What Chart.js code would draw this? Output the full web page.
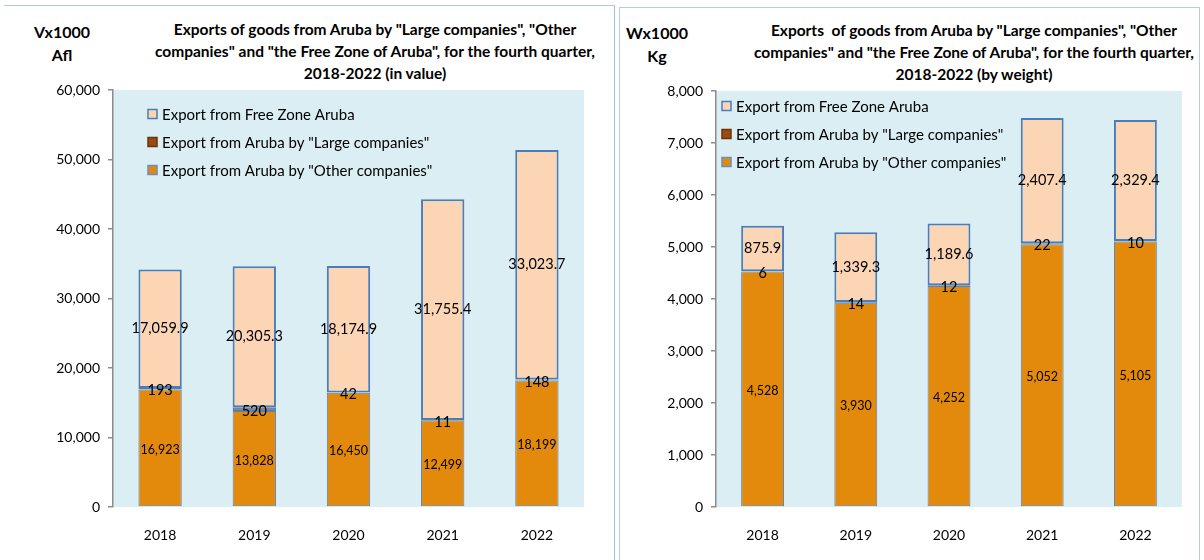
<!DOCTYPE html>
<html>
<head>
<meta charset="utf-8">
<script src="https://cdn.jsdelivr.net/npm/chart.js@4"></script>
<style>
  body { margin: 0; background: #fff; width: 1204px; height: 560px; overflow: hidden; position: relative; font-family: Lato, "Open Sans", sans-serif; }
  .panel { position: absolute; box-sizing: border-box; }
  #panelL { left: 4px; top: 5px; width: 611px; height: 600px; border-top: 1.5px solid #a9cbe6; border-right: 1.5px solid #9cc3e4; }
  #panelR { left: 619px; top: 7px; width: 581px; height: 600px; border: 1.5px solid #b7cde3; }
  .unit { position: absolute; font-weight: bold; font-size: 16px; text-align: center; line-height: 23px; color: #000; }
  .title { position: absolute; font-weight: bold; font-size: 15.5px; text-align: center; line-height: 22px; color: #000; white-space: nowrap; }
  canvas { position: absolute; top: 0; }
</style>
</head>
<body>
<div class="panel" id="panelL"></div>
<div class="panel" id="panelR"></div>

<div class="unit" style="left:22px; top:20px; width:80px;">Vx1000<br>Afl</div>
<div class="title" style="left:125px; top:18px; width:500px;">Exports of goods from Aruba by "Large companies", "Other<br>companies" and "the Free Zone of Aruba", for the fourth quarter,<br>2018-2022 (in value)</div>

<div class="unit" style="left:617px; top:21px; width:80px;">Wx1000<br>Kg</div>
<div class="title" style="left:724px; top:19px; width:500px;">Exports&nbsp; of goods from Aruba by "Large companies", "Other<br>companies" and "the Free Zone of Aruba", for the fourth quarter,<br>2018-2022 (by weight)</div>

<canvas id="valueChart" style="left:0px;" width="612" height="560"></canvas>
<canvas id="weightChart" style="left:619px;" width="580" height="560"></canvas>

<script>
// years on the x axis
const years = ["2018", "2019", "2020", "2021", "2022"];

// value (x1000 Afl)
const valueOther = [16923, 13828, 16450, 12499, 18199];
const valueLarge = [193, 520, 42, 11, 148];
const valueFreeZone = [17059.9, 20305.3, 18174.9, 31755.4, 33023.7];
const valueTicks = [0, 10000, 20000, 30000, 40000, 50000, 60000];

// weight (x1000 Kg)
const weightOther = [4528, 3930, 4252, 5052, 5105];
const weightLarge = [6, 14, 12, 22, 10];
const weightFreeZone = [875.9, 1339.3, 1189.6, 2407.4, 2329.4];
const weightTicks = [0, 1000, 2000, 3000, 4000, 5000, 6000, 7000, 8000];

const seriesNames = [
    'Export from Aruba by "Other companies"',
    'Export from Aruba by "Large companies"',
    "Export from Free Zone Aruba"
];

const FONT = "Lato, 'Open Sans', sans-serif";
const fmt = (v, dec) => v.toLocaleString("en-US", { minimumFractionDigits: dec, maximumFractionDigits: dec });

// light blue plot background
const plotBg = {
    id: "plotBg",
    beforeDraw(chart) {
        const a = chart.chartArea;
        const ctx = chart.ctx;
        ctx.save();
        ctx.fillStyle = "#dbeef4";
        ctx.fillRect(a.left, a.top, a.right - a.left, a.bottom - a.top);
        ctx.restore();
    }
};

// numbers in the middle of every segment
const segLabels = {
    id: "segLabels",
    afterDatasetsDraw(chart) {
        const ctx = chart.ctx;
        ctx.save();
        ctx.fillStyle = "#000";
        ctx.textAlign = "center";
        ctx.textBaseline = "middle";
        chart.data.datasets.forEach((ds, i) => {
            const meta = chart.getDatasetMeta(i);
            ctx.font = ds.labelFont;
            meta.data.forEach((bar, j) => {
                const y = (bar.y + bar.base) / 2 + (ds.labelShift || 0);
                ctx.fillText(fmt(ds.data[j], ds.decimals), bar.x, y);
            });
        });
        ctx.restore();
    }
};

// legend drawn inside the plot area, top-left
const insideLegend = {
    id: "insideLegend",
    afterDraw(chart, args, opts) {
        const ctx = chart.ctx;
        const sets = chart.data.datasets.slice().reverse();
        ctx.save();
        ctx.font = "15px " + FONT;
        ctx.textBaseline = "middle";
        sets.forEach((ds, k) => {
            const y = opts.y + k * opts.gap;
            ctx.fillStyle = ds.backgroundColor;
            ctx.fillRect(opts.x, y - 4.5, 9, 9);
            ctx.strokeStyle = ds.legendBorder;
            ctx.lineWidth = 1.5;
            ctx.strokeRect(opts.x, y - 4.5, 9, 9);
            ctx.fillStyle = "#000";
            ctx.fillText(ds.label, opts.x + 14, y + 1);
        });
        ctx.restore();
    }
};

function makeChart(id, other, large, freeZone, ticks, axisWidth, padRight, padTop, legendPos, fzDec) {
    const top = ticks[ticks.length - 1];
    return new Chart(document.getElementById(id), {
        type: "bar",
        data: {
            labels: years,
            datasets: [
                {
                    label: seriesNames[0], data: other, backgroundColor: "#e38a0c",
                    borderColor: "#5b82b0", borderWidth: 1, borderSkipped: false,
                    legendBorder: "#6a8fbf", labelFont: "12.5px " + FONT, decimals: 0, labelShift: 2
                },
                {
                    label: seriesNames[1], data: large, backgroundColor: "#9b4a10",
                    borderColor: "#4f7fb8", borderWidth: 1.5, borderSkipped: false,
                    legendBorder: "#6b3409", labelFont: "14.5px " + FONT, decimals: 0, labelShift: 2
                },
                {
                    label: seriesNames[2], data: freeZone, backgroundColor: "#fcd5b5",
                    borderColor: "#4a7ebb", borderWidth: 2, borderSkipped: false,
                    legendBorder: "#4a7ebb", labelFont: "14.5px " + FONT, decimals: fzDec, labelShift: 0
                }
            ]
        },
        options: {
            responsive: false,
            animation: false,
            layout: { padding: { left: 0, right: padRight, top: padTop, bottom: 13 } },
            datasets: { bar: { barPercentage: 0.46, categoryPercentage: 1 } },
            plugins: {
                legend: { display: false },
                tooltip: { enabled: false },
                insideLegend: legendPos
            },
            scales: {
                x: {
                    stacked: true,
                    grid: { display: false },
                    border: { display: false },
                    ticks: { color: "#000", font: { family: FONT, size: 14 }, padding: 12 },
                    afterFit(s) { s.height = 40; }
                },
                y: {
                    stacked: true,
                    min: 0, max: top,
                    afterBuildTicks(s) { s.ticks = ticks.map(v => ({ value: v })); },
                    grid: { drawOnChartArea: false, tickLength: 5, color: "#8c8c8c", lineWidth: 1.5 },
                    border: { color: "#8c8c8c", width: 1.5 },
                    ticks: {
                        color: "#000", padding: 8,
                        font: { family: FONT, size: 14 },
                        callback: v => fmt(v, 0)
                    },
                    afterFit(s) { s.width = axisWidth; }
                }
            }
        },
        plugins: [plotBg, segLabels, insideLegend]
    });
}

makeChart("valueChart", valueOther, valueLarge, valueFreeZone, valueTicks, 113, 28, 90, { x: 148, y: 114, gap: 28 }, 1);
makeChart("weightChart", weightOther, weightLarge, weightFreeZone, weightTicks, 97, 17, 91, { x: 103, y: 106, gap: 28 }, 1);
</script>
</body>
</html>
